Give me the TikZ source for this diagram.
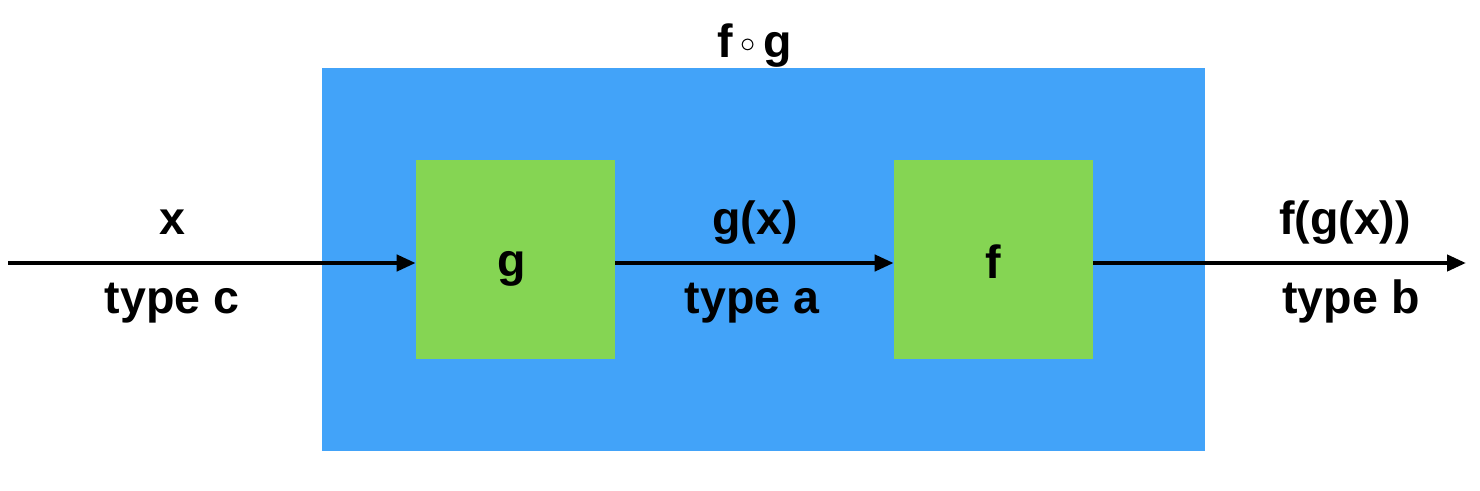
\documentclass[tikz,border=0pt]{standalone}
\usepackage{fontspec}
\setmainfont{Liberation Sans}
\usepackage{xcolor}
\usepackage{tikz}
\usetikzlibrary{arrows.meta,positioning}
\definecolor{outerblue}{RGB}{66,163,249}
\definecolor{boxgreen}{RGB}{133,213,83}

\begin{document}
\begin{tikzpicture}[
  x=0.02cm, y=-0.02cm,
  font=\fontsize{26.5}{30}\selectfont\bfseries,
  outer/.style={fill=outerblue, minimum width=17.66cm, minimum height=7.66cm, inner sep=0pt},
  fn/.style={fill=boxgreen, minimum width=3.98cm, minimum height=3.98cm, inner sep=0pt},
  lbl/.style={anchor=base, inner sep=0pt},
  arr/.style={-{Triangle[length=0.38cm,width=0.32cm]}, line width=0.085cm}
]
\useasboundingbox (0,0) rectangle (1480,490);
\node[outer] (comp) at (763.5,259.5) {};
\node[fn] (g) at (515.5,259.5) {};
\node[fn] (f) at (993.5,259.5) {};
\node[lbl] (gname) at (512,276) {g};
\node[lbl] (fname) at (993,278) {f};
\node[lbl] (compname) at (755,57) {f\,\raisebox{0.1em}{$\scriptstyle\circ$}\,g};

\coordinate (in) at (8,263);
\coordinate (out) at (1466,263);

\draw[arr] (in) -- (g.west |- in);
\draw[arr] (g.east |- in) -- (f.west |- in);
\draw[arr] (f.east |- in) -- (out);

\node[lbl] (xin) at (172,234) {x};
\node[lbl] (tc) at (172,313) {type c};
\node[lbl] (gx) at (755,234) {g(x)};
\node[lbl] (ta) at (752,313) {type a};
\node[lbl] (fgx) at (1345,234) {f(g(x))};
\node[lbl] (tb) at (1351,313) {type b};
\end{tikzpicture}
\end{document}
